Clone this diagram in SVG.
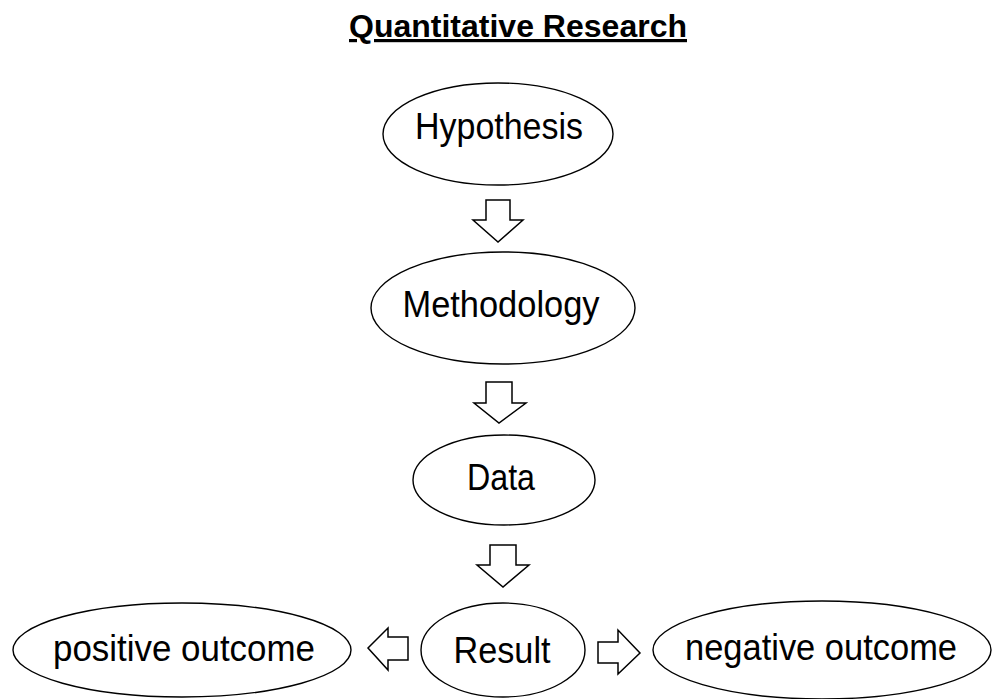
<svg xmlns="http://www.w3.org/2000/svg" width="992" height="699" viewBox="0 0 992 699">
<style>
.node ellipse{fill:#fff;stroke:#000;stroke-width:1.4}
.node text{font-family:"Liberation Sans",Arial,sans-serif;font-size:36px;fill:#000;text-anchor:middle}
.conn path{fill:#fff;stroke:#000;stroke-width:1.5;stroke-linejoin:miter}
.title{font-family:"Liberation Sans",Arial,sans-serif;font-size:32px;font-weight:bold;text-decoration:underline;text-anchor:middle}
</style>
<rect width="992" height="699" fill="#fff"/>
<text class="title" x="518" y="37" textLength="338" lengthAdjust="spacingAndGlyphs">Quantitative Research</text>
<g id="hypothesis" class="node">
<ellipse cx="498" cy="134" rx="115" ry="51"/>
<text x="499" y="139" textLength="168" lengthAdjust="spacingAndGlyphs">Hypothesis</text>
</g>
<g id="methodology" class="node">
<ellipse cx="503" cy="308" rx="132" ry="56"/>
<text x="501" y="317" textLength="197" lengthAdjust="spacingAndGlyphs">Methodology</text>
</g>
<g id="data" class="node">
<ellipse cx="504" cy="480" rx="91" ry="45"/>
<text x="501" y="490" textLength="68" lengthAdjust="spacingAndGlyphs">Data</text>
</g>
<g id="result" class="node">
<ellipse cx="503" cy="650" rx="82" ry="47"/>
<text x="502" y="663" textLength="97" lengthAdjust="spacingAndGlyphs">Result</text>
</g>
<g id="positive" class="node">
<ellipse cx="182" cy="650" rx="169" ry="47"/>
<text x="184" y="661" textLength="262" lengthAdjust="spacingAndGlyphs">positive outcome</text>
</g>
<g id="negative" class="node">
<ellipse cx="822" cy="650" rx="169" ry="49"/>
<text x="821" y="660" textLength="272" lengthAdjust="spacingAndGlyphs">negative outcome</text>
</g>
<g id="connectors" class="conn">
<path d="M486,200 H510 V220 H523 L498,242 L473,220 H486 Z"/>
<path d="M486,382 H512 V403 H526 L499,423 L474,403 H486 Z"/>
<path d="M490,545 H516 V565 H529 L503,587 L477,565 H490 Z"/>
<path d="M408,637 V660 H388 V670 L368,648 L388,628 V637 Z"/>
<path d="M598,642 V663 H618 V674 L640,653 L618,630 V642 Z"/>
</g>
</svg>
